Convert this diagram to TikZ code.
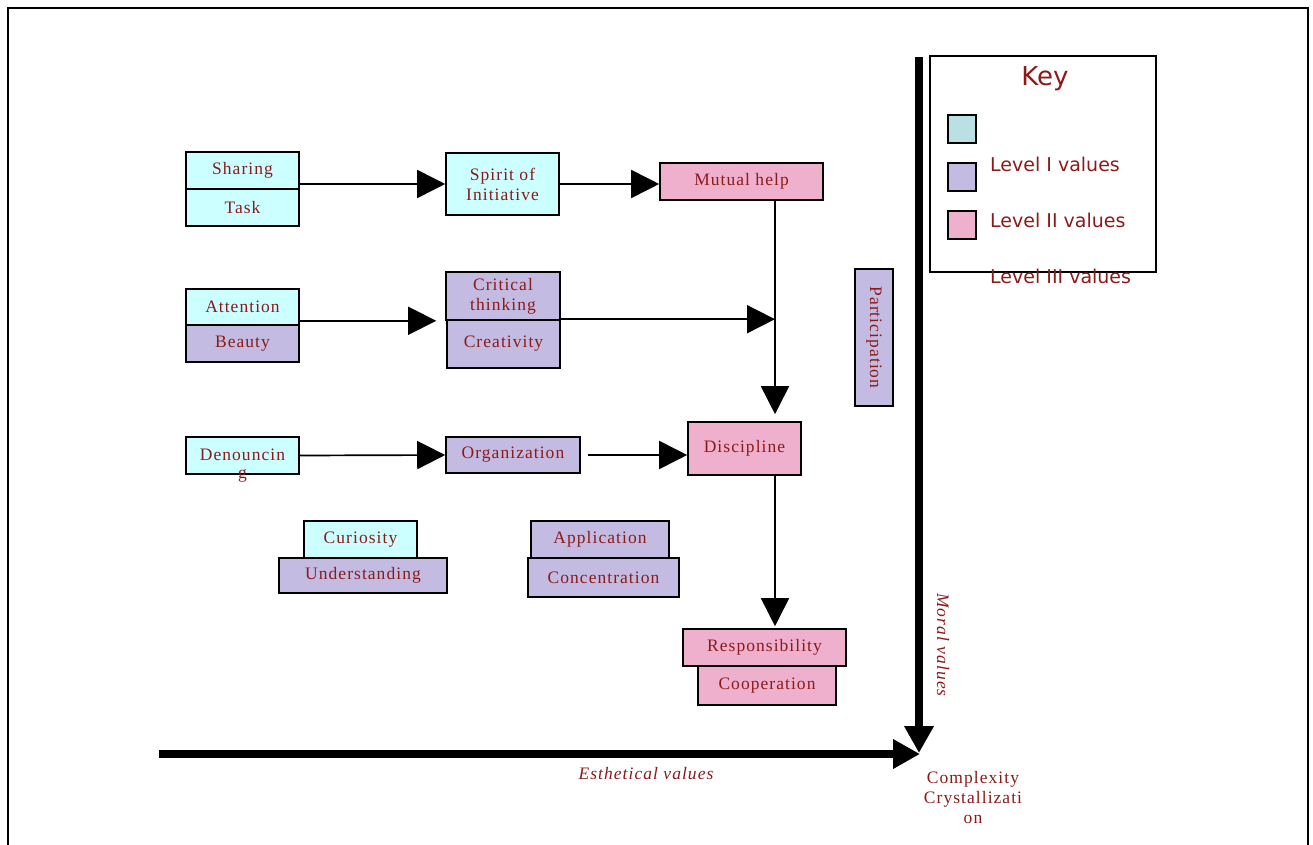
\documentclass[tikz,border=0pt]{standalone}
\usepackage{fontspec}
\setmainfont{Liberation Serif}
\newfontfamily\boxfont{Liberation Serif}[LetterSpace=6]
\newfontfamily\keyfont{DejaVu Sans}
\usetikzlibrary{arrows.meta}
\definecolor{txtred}{HTML}{8B1A1A}
\definecolor{cyanfill}{HTML}{CCFFFF}
\definecolor{lilacfill}{HTML}{C3BBE1}
\definecolor{pinkfill}{HTML}{EEB0CD}
\definecolor{keycyan}{HTML}{B9E0E3}

\begin{document}
\begin{tikzpicture}[x=1pt, y=-1pt,
    box/.style={draw=black, line width=1.6pt, inner sep=0pt, align=center,
      text=txtred, font=\boxfont\fontsize{17.5}{20}\selectfont},
    cyanbox/.style={box, fill=cyanfill},
    lilacbox/.style={box, fill=lilacfill},
    pinkbox/.style={box, fill=pinkfill},
    lbl/.style={text=txtred, align=center, inner sep=0pt,
      font=\boxfont\fontsize{17.5}{20}\selectfont},
    keylbl/.style={text=txtred, inner sep=0pt, font=\keyfont\fontsize{19}{22}\selectfont},
    keysq/.style={draw=black, line width=1.6pt, minimum size=28pt, inner sep=0pt},
    flow/.style={line width=1.7pt, -{Triangle[length=28pt, width=28pt]}},
    axis/.style={line width=8pt, -{Triangle[length=27pt, width=28pt]}}]
        \useasboundingbox (0,0) rectangle (1313,845);
        \draw[line width=1.6pt] (8,845) -- (8,8) -- (1308,8) -- (1308,845);
        
        \node[cyanbox, minimum width=113, minimum height=37] (sharing) at (242.5,170.5) {Sharing};
        \node[cyanbox, minimum width=113, minimum height=37] (task) at (242.5,207.5) {Task};
        \node[cyanbox, minimum width=113, minimum height=62] (spirit) at (502.5,184) {Spirit of\\Initiative};
        \node[pinkbox, minimum width=163, minimum height=37] (mutual) at (741.5,181.5) {Mutual help};
        
        \node[cyanbox, minimum width=113, minimum height=36] (attention) at (242.5,307) {Attention};
        \node[lilacbox, minimum width=113, minimum height=37] (beauty) at (242.5,343.5) {Beauty};
        \node[lilacbox, minimum width=114, minimum height=48] (critical) at (503,296) {Critical\\thinking};
        \node[lilacbox, minimum width=113, minimum height=48] (creativity) at (503.5,344) {Creativity};
        
        \node[cyanbox, minimum width=113, minimum height=37,
          label={[lbl, yshift=5pt]below:g}] (denounce) at (242.5,455.5) {\raisebox{2pt}{Denouncin}};
        \node[lilacbox, minimum width=134, minimum height=36] (organization) at (513,455) {Organization};
        \node[pinkbox, minimum width=113, minimum height=53] (discipline) at (744.5,448.5) {Discipline};
        
        \node[cyanbox, minimum width=113, minimum height=37] (curiosity) at (360.5,539.5) {Curiosity};
        \node[lilacbox, minimum width=168, minimum height=35] (understanding) at (363,575.5) {Understanding};
        \node[lilacbox, minimum width=138, minimum height=37] (application) at (600,539.5) {Application};
        \node[lilacbox, minimum width=151, minimum height=39] (concentration) at (603.5,577.5) {Concentration};
        
        \node[pinkbox, minimum width=163, minimum height=37] (responsibility) at (764.5,647.5) {Responsibility};
        \node[pinkbox, minimum width=138, minimum height=39] (cooperation) at (767,685.5) {Cooperation};
        
        \node[lilacbox, minimum width=137, minimum height=38, rotate=-90] (participation) at (874,337.5) {Participation};
        
        % key
        \node[draw=black, line width=1.6pt, minimum width=226, minimum height=216, inner sep=0pt] (key) at (1043,164) {};
        \node[keylbl, font=\keyfont\fontsize{26}{30}\selectfont] (keytitle) at (1045,79) {Key};
        \node[keysq, fill=keycyan] (k0) at (962,129) {};
        \node[keysq, fill=lilacfill] (k1) at (962,177) {};
        \node[keysq, fill=pinkfill] (k2) at (962,225) {};
        \node[keylbl, anchor=west] (k1txt) at (990,164) {Level I values};
        \node[keylbl, anchor=west] (k2txt) at (990,220) {Level II values};
        \node[keylbl, anchor=west] (k3txt) at (990,276) {Level III values};
        
        \coordinate (trunk) at (775,0);
        
        \draw[flow] (sharing.east |- spirit.west) -- (spirit.west);
        \draw[flow] (spirit.east) -- (spirit.east -| mutual.west);
        \draw[flow, shorten >=9pt] (attention.east |- critical.south) -- (critical.south -| critical.west);
        \draw[flow] (creativity.north east) -- (trunk |- creativity.north);
        \draw[flow, shorten >=7pt] (mutual.south -| trunk) -- (discipline.north -| trunk);
        \draw[flow] (denounce.east) -- (organization.west);
        \draw[flow, shorten <=7pt] (organization.east) -- (organization.east -| discipline.west);
        \draw[flow, shorten >=2pt] (discipline.south -| trunk) -- (responsibility.north -| trunk);
        
        % axes
        \coordinate (corner) at (920,753);
        \coordinate (xfrom) at (159,754);
        \coordinate (yfrom) at (919,57);
        \draw[axis] (xfrom) -- (xfrom -| corner);
        \draw[axis] (yfrom) -- (yfrom |- corner);
        
        \node[lbl, font=\boxfont\itshape\fontsize{17.5}{20}\selectfont] (esthetic) at (646,774) {Esthetical values};
        \node[lbl, font=\boxfont\itshape\fontsize{17.5}{20}\selectfont, rotate=-90] (moral) at (943,645) {Moral values};
        \node[lbl] (complexity) at (973,798) {Complexity\\Crystallizati\\on};
    \end{tikzpicture}
\end{document}
